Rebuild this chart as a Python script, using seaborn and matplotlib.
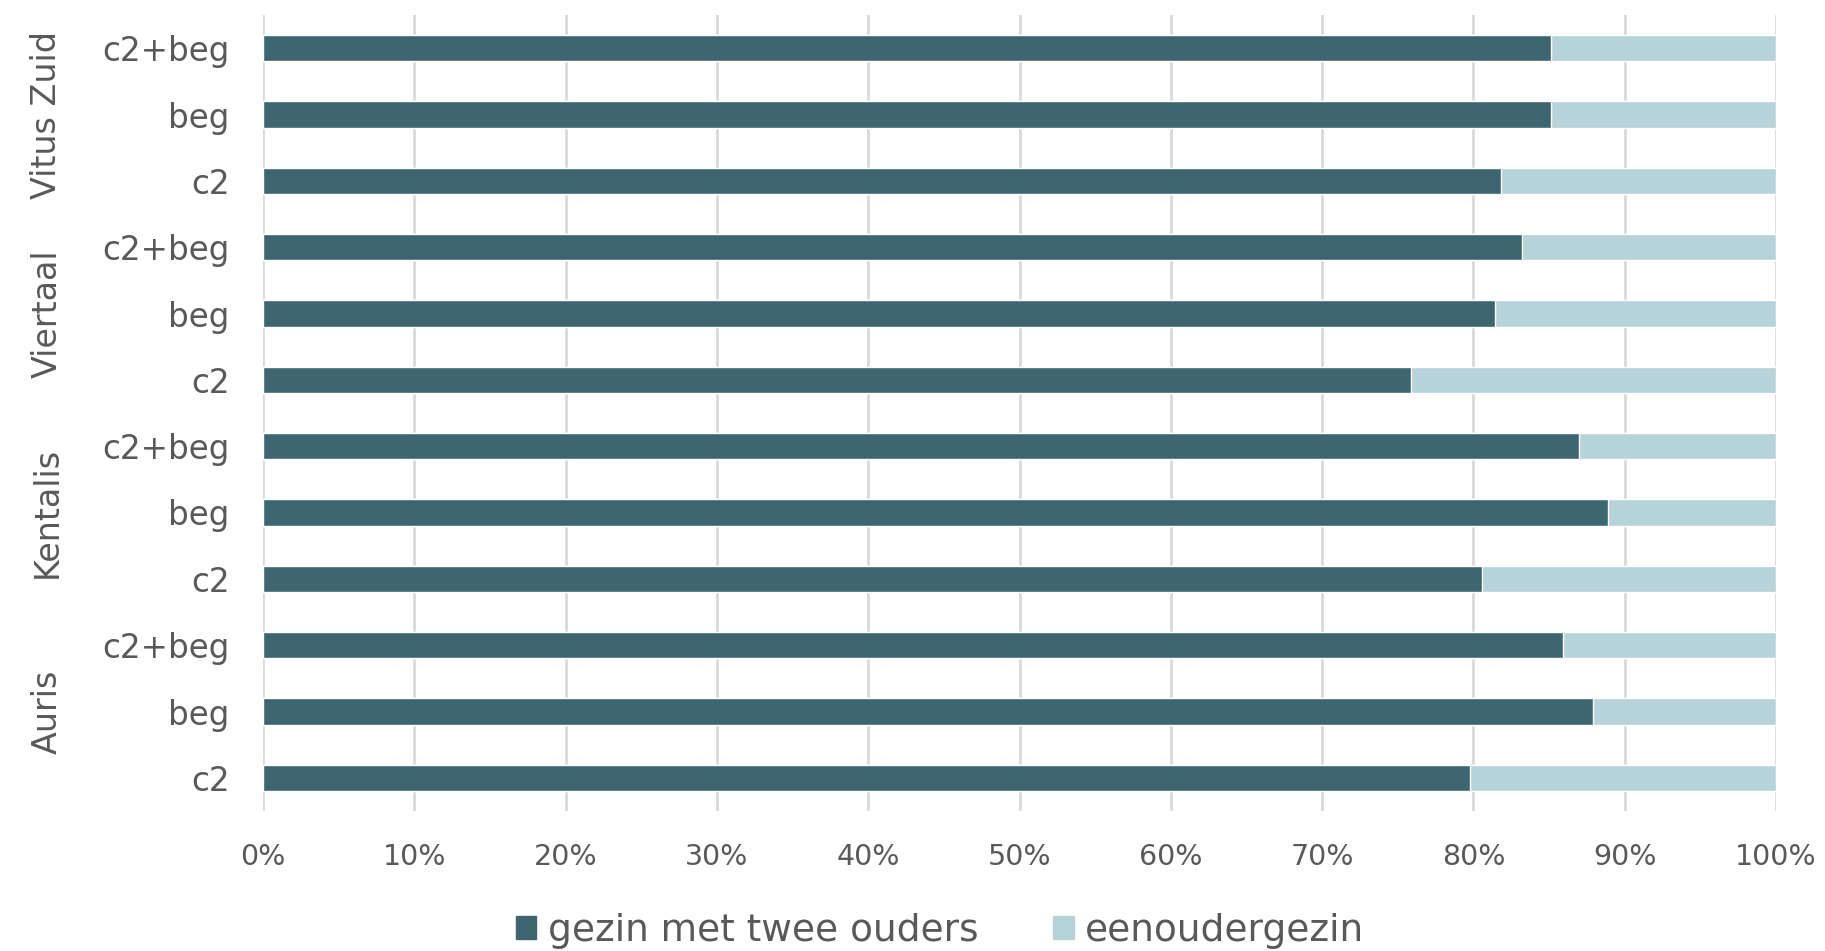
import pandas as pd
import seaborn as sns
from matplotlib import pyplot as plt
from matplotlib.patches import Patch
from matplotlib.ticker import PercentFormatter
import matplotlib.transforms as mtransforms

# waarden per school (volgorde: c2, beg, c2+beg)
scholen = ['Auris', 'Kentalis', 'Viertaal', 'Vitus Zuid']
groepen = ['c2', 'beg', 'c2+beg']
twee_ouders = [79.8, 87.9, 85.9,
               80.6, 88.9, 87.0,
               75.9, 81.4, 83.2,
               81.8, 85.1, 85.1]
eenouder = [20.2, 12.1, 14.1,
            19.4, 11.1, 13.0,
            24.1, 18.6, 16.8,
            18.2, 14.9, 14.9]

donker = '#3d6672'
licht = '#b6d3da'
grijs = '#595959'

rijen = []
for i, school in enumerate(scholen):
    for j, groep in enumerate(groepen):
        k = i * 3 + j
        rijen.append({'school': school, 'groep': groep,
                      'key': school + '|' + groep,
                      'twee': twee_ouders[k], 'een': eenouder[k]})
df = pd.DataFrame(rijen)
df['totaal'] = df['twee'] + df['een']
# bovenaan staat Vitus Zuid c2+beg
df = df.iloc[::-1].reset_index(drop=True)

sns.set_style('white')
plt.rcParams['font.family'] = ['DejaVu Sans']

fig = plt.figure(figsize=(18.25, 9.51), dpi=100)
ax = fig.add_axes([263 / 1825, 1 - 811 / 951, 1513 / 1825, 796 / 951])

sns.barplot(data=df, y='key', x='totaal', color=licht, width=0.4,
            saturation=1, ax=ax, order=list(df['key']), zorder=2)
sns.barplot(data=df, y='key', x='twee', color=donker, width=0.4,
            saturation=1, ax=ax, order=list(df['key']), zorder=3)

ax.set_xlim(0, 100)
ax.set_ylim(len(df) - 0.5, -0.5)
ax.set_xticks(range(0, 101, 10))
ax.xaxis.set_major_formatter(PercentFormatter(decimals=0))
ax.set_yticks(range(len(df)))
ax.set_yticklabels(df['groep'])
ax.set_xlabel('')
ax.set_ylabel('')
ax.grid(axis='x', color='#d9d9d9', linewidth=2, zorder=0)
ax.grid(axis='y', visible=False)
ax.set_axisbelow(True)
for s in ax.spines.values():
    s.set_visible(False)
ax.tick_params(axis='y', length=0, pad=24, labelsize=23.5, labelcolor=grijs)
ax.tick_params(axis='x', length=0, pad=23, labelsize=20.5, labelcolor=grijs)

# schoolnamen, gecentreerd per groep van drie
trans = mtransforms.blended_transform_factory(ax.transAxes, ax.transData)
for i, school in enumerate(scholen):
    pos = df.index[df['school'] == school].to_numpy().mean()
    ax.text(-0.1428, pos, school, rotation=90, ha='center', va='center',
            fontsize=24, color=grijs, transform=trans)

handles = [Patch(color=donker, label='gezin met twee ouders'),
           Patch(color=licht, label='eenoudergezin')]
fig.legend(handles=handles, loc='center', bbox_to_anchor=(940 / 1825, 1 - 931 / 951),
           ncol=2, frameon=False, fontsize=27, labelcolor=grijs,
           handlelength=0.55, handleheight=0.55, handletextpad=0.3, columnspacing=2.0)

fig.savefig('out.png', dpi=100)
